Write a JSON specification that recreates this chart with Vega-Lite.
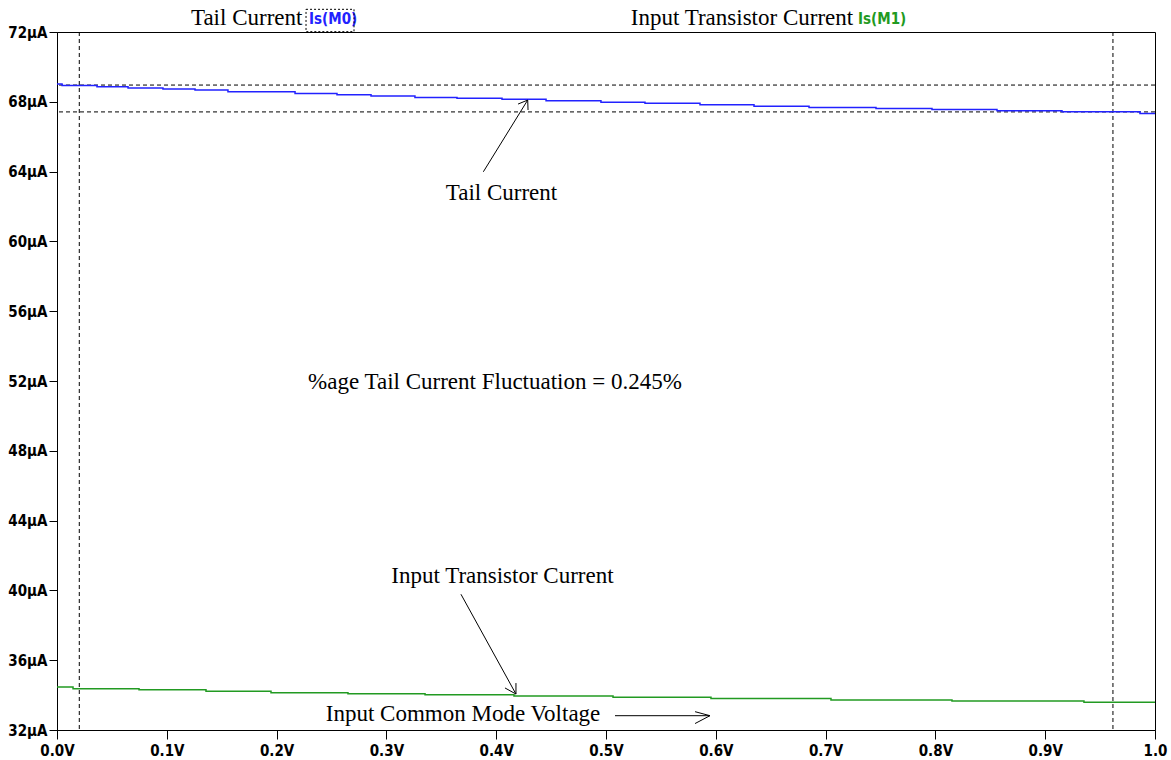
{
  "$schema": "https://vega.github.io/schema/vega-lite/v6.json",
  "width": 1098,
  "height": 698,
  "autosize": "none",
  "padding": {"left": 57, "top": 32, "right": 16, "bottom": 30},
  "background": "white",
  "config": {
    "view": {"stroke": "black", "strokeWidth": 1},
    "axis": {
      "grid": false,
      "domainColor": "black",
      "tickColor": "black",
      "labelColor": "black",
      "labelFont": "Liberation Sans Narrow, DejaVu Sans Condensed, Arial Narrow, sans-serif",
      "labelFontWeight": "bold",
      "labelFontSize": 15,
      "labelFlush": false,
      "title": null
    }
  },
  "datasets": {
    "curves": [
      {"v": 0.0, "i": 69.02, "series": "Is(M0)"},
      {"v": 0.0046, "i": 68.94, "series": "Is(M0)"},
      {"v": 0.0364, "i": 68.86, "series": "Is(M0)"},
      {"v": 0.0647, "i": 68.79, "series": "Is(M0)"},
      {"v": 0.0965, "i": 68.73, "series": "Is(M0)"},
      {"v": 0.1257, "i": 68.67, "series": "Is(M0)"},
      {"v": 0.1557, "i": 68.57, "series": "Is(M0)"},
      {"v": 0.2168, "i": 68.48, "series": "Is(M0)"},
      {"v": 0.2550, "i": 68.40, "series": "Is(M0)"},
      {"v": 0.2860, "i": 68.33, "series": "Is(M0)"},
      {"v": 0.3260, "i": 68.25, "series": "Is(M0)"},
      {"v": 0.3643, "i": 68.20, "series": "Is(M0)"},
      {"v": 0.4053, "i": 68.14, "series": "Is(M0)"},
      {"v": 0.4454, "i": 68.06, "series": "Is(M0)"},
      {"v": 0.4954, "i": 67.98, "series": "Is(M0)"},
      {"v": 0.5355, "i": 67.91, "series": "Is(M0)"},
      {"v": 0.5856, "i": 67.83, "series": "Is(M0)"},
      {"v": 0.6348, "i": 67.75, "series": "Is(M0)"},
      {"v": 0.6849, "i": 67.68, "series": "Is(M0)"},
      {"v": 0.7459, "i": 67.62, "series": "Is(M0)"},
      {"v": 0.7969, "i": 67.56, "series": "Is(M0)"},
      {"v": 0.8561, "i": 67.48, "series": "Is(M0)"},
      {"v": 0.9153, "i": 67.43, "series": "Is(M0)"},
      {"v": 0.9863, "i": 67.33, "series": "Is(M0)"},
      {"v": 1.0, "i": 67.33, "series": "Is(M0)"},
      {"v": 0.0, "i": 34.47, "series": "Is(M1)"},
      {"v": 0.0146, "i": 34.37, "series": "Is(M1)"},
      {"v": 0.0747, "i": 34.30, "series": "Is(M1)"},
      {"v": 0.1357, "i": 34.22, "series": "Is(M1)"},
      {"v": 0.1949, "i": 34.14, "series": "Is(M1)"},
      {"v": 0.2650, "i": 34.08, "series": "Is(M1)"},
      {"v": 0.3352, "i": 34.02, "series": "Is(M1)"},
      {"v": 0.4162, "i": 33.95, "series": "Is(M1)"},
      {"v": 0.5064, "i": 33.88, "series": "Is(M1)"},
      {"v": 0.5956, "i": 33.80, "series": "Is(M1)"},
      {"v": 0.7049, "i": 33.72, "series": "Is(M1)"},
      {"v": 0.8151, "i": 33.66, "series": "Is(M1)"},
      {"v": 0.9353, "i": 33.59, "series": "Is(M1)"},
      {"v": 1.0, "i": 33.59, "series": "Is(M1)"}
    ],
    "cursorsV": [{"v": 0.0203}, {"v": 0.9617}],
    "cursorsH": [{"i": 68.96}, {"i": 67.42}],
    "notes": [
      {"v": 0.4048, "i": 62.77, "text": "Tail Current"},
      {"v": 0.3989, "i": 51.94, "text": "%age Tail Current Fluctuation = 0.245%"},
      {"v": 0.4057, "i": 40.83, "text": "Input Transistor Current"},
      {"v": 0.3698, "i": 32.92, "text": "Input Common Mode Voltage"}
    ],
    "arrows": [
      {"v": 0.3883, "i": 63.99, "v2": 0.4287, "i2": 68.10},
      {"v": 0.4287, "i": 68.10, "v2": 0.4199, "i2": 67.87},
      {"v": 0.4287, "i": 68.10, "v2": 0.4290, "i2": 67.53},
      {"v": 0.3679, "i": 39.78, "v2": 0.4180, "i2": 34.06},
      {"v": 0.4180, "i": 34.06, "v2": 0.4180, "i2": 34.69},
      {"v": 0.4180, "i": 34.06, "v2": 0.4080, "i2": 34.41},
      {"v": 0.5082, "i": 32.82, "v2": 0.5947, "i2": 32.82},
      {"v": 0.5947, "i": 32.82, "v2": 0.5811, "i2": 33.05},
      {"v": 0.5947, "i": 32.82, "v2": 0.5811, "i2": 32.37}
    ],
    "legendText": [
      {"v": 0.122, "i": 72.80, "text": "Tail Current"},
      {"v": 0.5226, "i": 72.80, "text": "Input Transistor Current"}
    ],
    "legendTags": [
      {"v": 0.2295, "i": 72.76, "series": "Is(M0)"},
      {"v": 0.7295, "i": 72.76, "series": "Is(M1)"}
    ],
    "tagBox": [{"v": 0.2268, "v2": 0.2705, "i": 73.30, "i2": 72.02}]
  },
  "layer": [
    {
      "data": {"name": "cursorsV"},
      "mark": {"type": "rule", "color": "black", "strokeWidth": 1, "strokeDash": [4, 3]},
      "encoding": {
        "x": {"field": "v", "type": "quantitative", "scale": {"domain": [0, 1], "nice": false, "zero": false},
              "axis": {"values": [0, 0.1, 0.2, 0.3, 0.4, 0.5, 0.6, 0.7, 0.8, 0.9, 1.0], "tickSize": 9, "labelPadding": 4,
                       "labelExpr": "datum.value >= 1 ? '1.0' : format(datum.value, '.1f') + 'V'"}}
      }
    },
    {
      "data": {"name": "cursorsH"},
      "mark": {"type": "rule", "color": "black", "strokeWidth": 1, "strokeDash": [4, 3]},
      "encoding": {
        "y": {"field": "i", "type": "quantitative", "scale": {"domain": [32, 72], "nice": false, "zero": false},
              "axis": {"values": [32, 36, 40, 44, 48, 52, 56, 60, 64, 68, 72], "tickSize": 8, "labelPadding": 2,
                       "labelExpr": "datum.value + 'µA'"}}
      }
    },
    {
      "data": {"name": "curves"},
      "mark": {"type": "line", "interpolate": "step-after", "strokeWidth": 1.5},
      "encoding": {
        "x": {"field": "v", "type": "quantitative"},
        "y": {"field": "i", "type": "quantitative"},
        "color": {"field": "series", "type": "nominal", "legend": null,
                  "scale": {"domain": ["Is(M0)", "Is(M1)"], "range": ["#2222ff", "#229a22"]}}
      }
    },
    {
      "data": {"name": "arrows"},
      "mark": {"type": "rule", "color": "black", "strokeWidth": 1},
      "encoding": {
        "x": {"field": "v", "type": "quantitative"},
        "y": {"field": "i", "type": "quantitative"},
        "x2": {"field": "v2"},
        "y2": {"field": "i2"}
      }
    },
    {
      "data": {"name": "notes"},
      "mark": {"type": "text", "font": "Liberation Serif, Times New Roman, serif", "fontSize": 23, "align": "center", "baseline": "middle", "color": "black"},
      "encoding": {
        "x": {"field": "v", "type": "quantitative"},
        "y": {"field": "i", "type": "quantitative"},
        "text": {"field": "text"}
      }
    },
    {
      "data": {"name": "legendText"},
      "mark": {"type": "text", "font": "Liberation Serif, Times New Roman, serif", "fontSize": 23, "align": "left", "baseline": "middle", "color": "black"},
      "encoding": {
        "x": {"field": "v", "type": "quantitative"},
        "y": {"field": "i", "type": "quantitative"},
        "text": {"field": "text"}
      }
    },
    {
      "data": {"name": "legendTags"},
      "mark": {"type": "text", "font": "Liberation Sans Narrow, DejaVu Sans Condensed, Arial Narrow, sans-serif", "fontWeight": "bold", "fontSize": 15, "align": "left", "baseline": "middle"},
      "encoding": {
        "x": {"field": "v", "type": "quantitative"},
        "y": {"field": "i", "type": "quantitative"},
        "text": {"field": "series"},
        "color": {"field": "series", "type": "nominal", "legend": null}
      }
    },
    {
      "data": {"name": "tagBox"},
      "mark": {"type": "rect", "fill": null, "fillOpacity": 0, "stroke": "black", "strokeWidth": 1, "strokeDash": [2, 2]},
      "encoding": {
        "x": {"field": "v", "type": "quantitative"},
        "x2": {"field": "v2"},
        "y": {"field": "i", "type": "quantitative"},
        "y2": {"field": "i2"}
      }
    }
  ]
}
